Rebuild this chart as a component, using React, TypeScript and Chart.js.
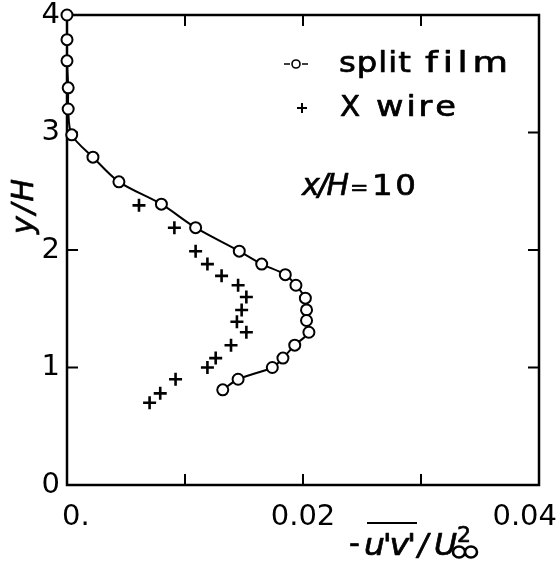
import React, { useEffect, useRef } from 'react';
import { Chart, registerables } from 'chart.js';

Chart.register(...registerables);

// Reynolds shear stress profiles at x/H = 10
const splitFilmX = [0, 0, 0, 0.0001, 0.0001, 0.0004, 0.0022, 0.0044, 0.008, 0.0109, 0.0146, 0.0165, 0.0185, 0.0194, 0.0202, 0.0203, 0.0203, 0.0205, 0.0193, 0.0183, 0.0174, 0.0145, 0.0132];
const splitFilmY = [4.0, 3.79, 3.61, 3.38, 3.2, 2.98, 2.79, 2.58, 2.39, 2.19, 1.99, 1.88, 1.79, 1.7, 1.59, 1.49, 1.4, 1.3, 1.19, 1.08, 1.0, 0.9, 0.81];

const xWireX = [0.0061, 0.0091, 0.0109, 0.0119, 0.0131, 0.0145, 0.0152, 0.0148, 0.0144, 0.0152, 0.0139, 0.0126, 0.0119, 0.0092, 0.0079, 0.007];
const xWireY = [2.38, 2.19, 1.99, 1.88, 1.78, 1.7, 1.6, 1.49, 1.39, 1.3, 1.19, 1.08, 1.0, 0.9, 0.78, 0.7];

const xTicks = [0, 0.01, 0.02, 0.03, 0.04];
const xTickLabels = ['0.', '', '0.02', '', '0.04'];
const yTicks = [0, 1, 2, 3, 4];
const yTickLabels = ['0', '1', '2', '3', '4'];

const FONT = 'DejaVu Sans';

// Draws text char by char, spreading the letters over the given width.
// A thin outline thickens the strokes like pen lettering.
function drawSpaced(ctx: CanvasRenderingContext2D, text: string, x: number, y: number, width: number, outline = 0.7) {
  const chars = Array.from(text);
  const widths = chars.map((c) => ctx.measureText(c).width);
  const total = widths.reduce((a, b) => a + b, 0);
  const gap = chars.length > 1 ? (width - total) / (chars.length - 1) : 0;
  let cx = x;
  ctx.save();
  ctx.lineWidth = outline;
  ctx.lineJoin = 'round';
  chars.forEach((c, i) => {
    ctx.fillText(c, cx, y);
    if (outline > 0) ctx.strokeText(c, cx, y);
    cx += widths[i] + gap;
  });
  ctx.restore();
}

// Wide lettering: horizontally stretched glyphs, then spaced to fill the width.
function drawWide(ctx: CanvasRenderingContext2D, text: string, x: number, y: number, width: number, sx: number) {
  ctx.save();
  ctx.translate(x, y);
  ctx.scale(sx, 1);
  drawSpaced(ctx, text, 0, 0, width / sx);
  ctx.restore();
}

const framePlugin = {
  id: 'frame',
  beforeDatasetsDraw(chart: any) {
    const { ctx, chartArea } = chart;
    const { left, right, top, bottom } = chartArea;
    const xs = chart.scales.x;
    const ys = chart.scales.y;
    ctx.save();
    ctx.strokeStyle = '#000';
    ctx.lineWidth = 2.5;
    ctx.lineCap = 'square';
    ctx.strokeRect(left, top, right - left, bottom - top);
    ctx.lineWidth = 2;
    ctx.lineCap = 'butt';
    const len = 11;
    ctx.beginPath();
    xTicks.slice(1, -1).forEach((v) => {
      const px = xs.getPixelForValue(v);
      ctx.moveTo(px, bottom);
      ctx.lineTo(px, bottom - len);
      ctx.moveTo(px, top);
      ctx.lineTo(px, top + len);
    });
    yTicks.slice(1, -1).forEach((v) => {
      const py = ys.getPixelForValue(v);
      ctx.moveTo(left, py);
      ctx.lineTo(left + len, py);
      ctx.moveTo(right, py);
      ctx.lineTo(right - len, py);
    });
    ctx.stroke();
    ctx.restore();
  },
  afterDraw(chart: any) {
    const { ctx, chartArea, width } = chart;
    const xs = chart.scales.x;
    ctx.save();
    ctx.fillStyle = '#000';
    ctx.strokeStyle = '#000';
    ctx.textBaseline = 'alphabetic';
    ctx.textAlign = 'left';

    // x tick labels, kept inside the canvas
    ctx.font = `29px ${FONT}`;
    xTicks.forEach((v, i) => {
      const label = xTickLabels[i];
      if (!label) return;
      const w = ctx.measureText(label).width;
      const px = xs.getPixelForValue(v);
      const lx = Math.min(Math.max(px - w / 2, chartArea.left - 5), width - 2 - w);
      ctx.fillText(label, lx, 525);
    });

    // y axis title
    ctx.font = `italic 30px ${FONT}`;
    ctx.save();
    ctx.translate(33, 234);
    ctx.rotate(-Math.PI / 2);
    drawSpaced(ctx, 'y/H', 0, 0, 55);
    ctx.restore();

    // x axis title: -u'v'/U∞²
    ctx.font = `30px ${FONT}`;
    drawSpaced(ctx, '-', 349, 553, 10);
    ctx.font = `italic 30px ${FONT}`;
    drawWide(ctx, "u'v'", 364, 555, 52, 1.1);
    ctx.lineWidth = 2.2;
    ctx.beginPath();
    ctx.moveTo(367, 523);
    ctx.lineTo(417, 523);
    ctx.stroke();
    drawSpaced(ctx, '/', 418, 555, 10);
    drawWide(ctx, 'U', 434, 555, 22, 1.05);
    ctx.font = `22px ${FONT}`;
    drawSpaced(ctx, '2', 457, 542, 12);
    // infinity subscript as two joined loops
    ctx.lineWidth = 2.6;
    ctx.beginPath();
    ctx.ellipse(459, 552, 6, 5.5, 0, 0, Math.PI * 2);
    ctx.moveTo(477, 552);
    ctx.ellipse(471, 552, 6, 5.5, 0, 0, Math.PI * 2);
    ctx.stroke();

    // legend
    ctx.lineWidth = 1.6;
    ctx.beginPath();
    ctx.moveTo(284, 64);
    ctx.lineTo(290, 64);
    ctx.moveTo(302, 64);
    ctx.lineTo(308, 64);
    ctx.stroke();
    ctx.beginPath();
    ctx.arc(296, 64, 4, 0, Math.PI * 2);
    ctx.stroke();
    ctx.font = `28px ${FONT}`;
    drawWide(ctx, 'split', 339, 72, 72, 1.15);
    drawWide(ctx, 'film', 425, 72, 83, 1.3);

    ctx.lineWidth = 2;
    ctx.beginPath();
    ctx.moveTo(297, 108);
    ctx.lineTo(307, 108);
    ctx.moveTo(302, 103);
    ctx.lineTo(302, 113);
    ctx.stroke();
    drawWide(ctx, 'X', 340, 116, 20, 1.05);
    drawWide(ctx, 'wire', 376, 116, 80, 1.2);

    // station label
    ctx.font = `italic 30px ${FONT}`;
    drawSpaced(ctx, 'x/H', 302, 195, 47);
    ctx.font = `22px ${FONT}`;
    drawSpaced(ctx, '=', 350, 195, 12);
    ctx.font = `29px ${FONT}`;
    drawWide(ctx, '10', 372, 195, 44, 1.12);

    ctx.restore();
  },
};

export default function App() {
  const canvasRef = useRef<HTMLCanvasElement | null>(null);

  useEffect(() => {
    const canvas = canvasRef.current;
    if (!canvas) return;
    const chart = new Chart(canvas, {
      type: 'scatter',
      data: {
        datasets: [
          {
            label: 'split film',
            data: splitFilmX.map((x, i) => ({ x, y: splitFilmY[i] })),
            showLine: true,
            borderColor: '#000',
            borderWidth: 2,
            tension: 0.3,
            pointRadius: 5.5,
            pointBorderWidth: 2,
            pointBorderColor: '#000',
            pointBackgroundColor: '#fff',
            clip: false,
          },
          {
            label: 'X wire',
            data: xWireX.map((x, i) => ({ x, y: xWireY[i] })),
            showLine: false,
            pointStyle: 'cross',
            pointRadius: 6.5,
            pointBorderWidth: 2.6,
            pointBorderColor: '#000',
            borderColor: '#000',
            clip: false,
          },
        ],
      },
      options: {
        responsive: false,
        animation: false,
        layout: { padding: { top: 15, right: 20, left: 0, bottom: 0 } },
        plugins: {
          legend: { display: false },
          tooltip: { enabled: false },
        },
        scales: {
          x: {
            type: 'linear',
            min: xTicks[0],
            max: xTicks[xTicks.length - 1],
            ticks: { display: false, stepSize: 0.01 },
            grid: { display: false, drawTicks: false },
            border: { display: false },
            afterFit(scale: any) {
              scale.height = 76;
              scale.paddingLeft = 0;
              scale.paddingRight = 0;
            },
          },
          y: {
            type: 'linear',
            min: yTicks[0],
            max: yTicks[yTicks.length - 1],
            ticks: {
              stepSize: 1,
              padding: 7,
              color: '#000',
              font: { family: FONT, size: 29 },
              callback: (v: any) => {
                const i = yTicks.indexOf(Number(v));
                return i >= 0 ? yTickLabels[i] : '';
              },
            },
            grid: { display: false, drawTicks: false },
            border: { display: false },
            afterFit(scale: any) {
              scale.width = 67;
              scale.paddingTop = 0;
              scale.paddingBottom = 0;
            },
          },
        },
      },
      plugins: [framePlugin],
    });
    return () => chart.destroy();
  }, []);

  return (
    <div style={{ position: 'absolute', left: 0, top: 0, width: 559, height: 561, background: '#fff' }}>
      <canvas ref={canvasRef} width={559} height={561} style={{ display: 'block' }} />
    </div>
  );
}
